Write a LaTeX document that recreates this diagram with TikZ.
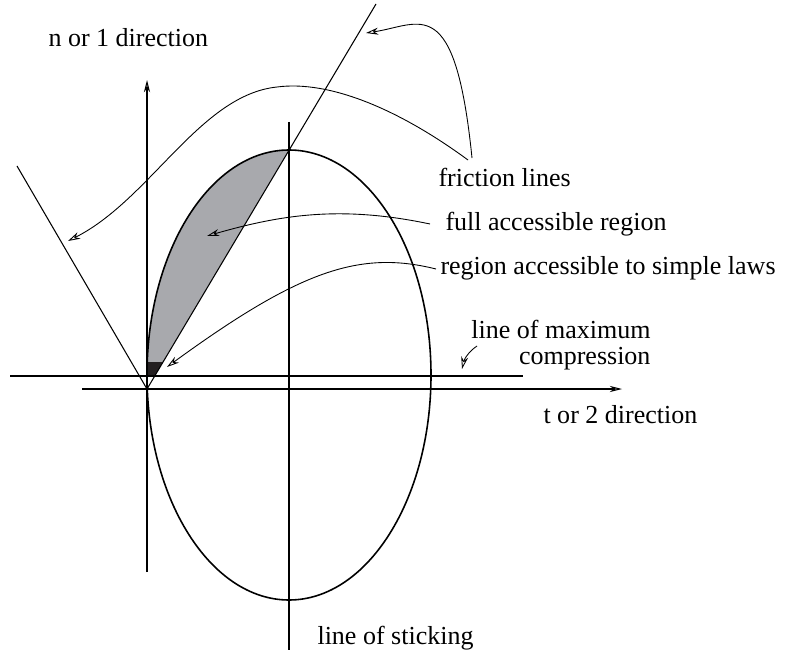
\documentclass[tikz,border=0pt]{standalone}
\usepackage{fontspec}
\setmainfont{Liberation Serif}
\usetikzlibrary{arrows.meta}
\definecolor{regiongray}{RGB}{168,169,173}
\definecolor{regionblack}{RGB}{35,31,32}
\tikzset{
  leader/.style={line width=0.5pt, -{Stealth[open, length=7pt, width=4pt]}},
  axis/.style={line width=0.6pt, -{Stealth[open, length=7pt, width=3.5pt]}},
  label/.style={font=\fontsize{14.8}{17}\selectfont, inner sep=0pt},
}
\begin{document}
\begin{tikzpicture}[x=0.02cm, y=-0.02cm, line width=0.6pt]
    \useasboundingbox (0,0) rectangle (790,655);

    % Accessible regions
    \fill[regiongray] (147,375) arc[start angle=180, end angle=270, x radius=142, y radius=225]
        -- (154.7,376) -- cycle;
    \fill[regionblack] (147,362) -- (163,362) -- (154.7,376) -- (147,376) -- cycle;

    % Axes
    \coordinate (O) at (147,389);
    \coordinate (nbot) at (147,572);
    \coordinate (ntop) at (147,80);
    \coordinate (tleft) at (82,389);
    \coordinate (tright) at (622,389);
    \draw[axis] (nbot) -- (ntop);
    \draw[axis] (tleft) -- (tright);

    % Ellipse, sticking and maximum compression
    \draw[line width=0.9pt] (289,375) ellipse[x radius=142, y radius=225];
    \coordinate (stop) at (289,122);
    \coordinate (sbot) at (289,650);
    \draw (stop) -- (sbot);
    \coordinate (cleft) at (10,376);
    \coordinate (cright) at (523,376);
    \draw (cleft) -- (cright);

    % Friction lines
    \coordinate (fright) at (376,4);
    \coordinate (fleft) at (17,166);
    \draw (fright) -- (O) -- (fleft);

    % Labels
    \node[label, anchor=west] (nlab) at (48,38) {n or 1 direction};
    \node[label, anchor=west] (tlab) at (543,415) {t or 2 direction};
    \node[label, anchor=west] (fric) at (438,177) {friction lines};
    \node[label, anchor=west] (full) at (445,224) {full accessible region};
    \node[label, anchor=west] (simple) at (440,268) {region accessible to simple laws};
    \node[label, anchor=base east] (maxa) at (651,338) {line of maximum};
    \node[label, anchor=base east] (maxb) at (651,364) {compression};
    \node[label, anchor=west] (stick) at (317,638) {line of sticking};

    % Leaders
    \coordinate (fricA) at (472,158);
    \coordinate (fricB) at (468,160);
    \coordinate (tipR) at (366,33);
    \coordinate (tipL) at (68,241);
    \draw[leader] (fricA) .. controls (455,-10) and (420,25) .. (tipR);
    \draw[leader] (fricB) .. controls (400,110) and (330,80) .. (277,87)
        .. controls (200,95) and (150,200) .. (tipL);
    \coordinate (fullA) at (430,224);
    \coordinate (tipF) at (207,236);
    \draw[leader] (fullA) .. controls (340,205) and (280,215) .. (tipF);
    \coordinate (simpA) at (436,269);
    \coordinate (tipS) at (167,367);
    \draw[leader] (simpA) .. controls (360,250) and (300,270) .. (tipS);
    \coordinate (maxA) at (477,346);
    \coordinate (tipM) at (462,369);
    \draw[leader] (maxA) .. controls (468,352) and (464,360) .. (tipM);
\end{tikzpicture}
\end{document}
